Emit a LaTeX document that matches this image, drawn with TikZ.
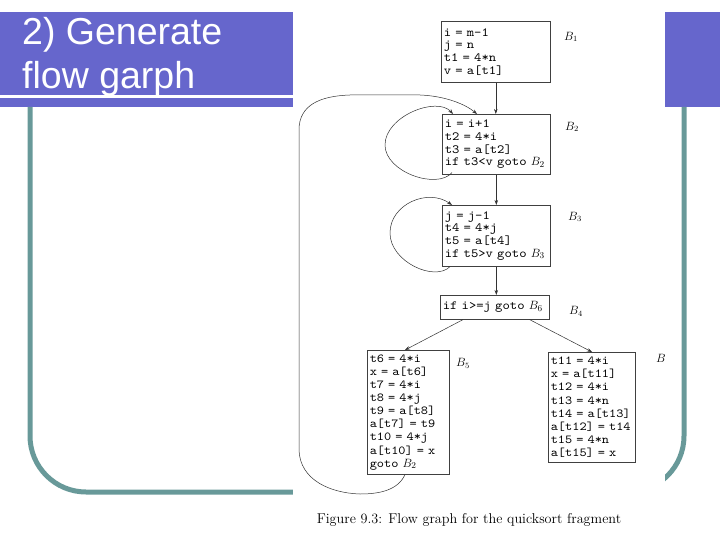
\documentclass[tikz,border=0pt]{standalone}
\usepackage{fontspec}
\newfontfamily\titlefont{Liberation Sans}
\newfontfamily\codefont{lmmono10-regular.otf}[FakeStretch=1.12]
\usetikzlibrary{arrows.meta}
\definecolor{slidepurple}{RGB}{102,102,204}
\definecolor{slideteal}{RGB}{104,153,153}
\tikzset{
  block/.style={draw=black!75, line width=0.6pt, anchor=north west, inner xsep=2.5pt, inner ysep=0pt, align=left,
    font=\fontsize{12.5}{12.6}\selectfont\codefont},
  bigblock/.style={block, font=\fontsize{12.2}{13.1}\selectfont\codefont},
  blabel/.style={anchor=west, inner sep=0pt, font=\fontsize{12}{14}\selectfont},
  flow/.style={draw=black!80, line width=0.5pt, -{Stealth[length=5pt,width=3.5pt]}},
}
\begin{document}
\begin{tikzpicture}[x=1pt,y=-1pt]
\useasboundingbox (0,0) rectangle (720,540);
% slide frame
\fill[slidepurple] (0,12) rectangle (720,107);
\draw[white, line width=2.5pt] (0,96.5) -- (293,96.5);
\draw[slideteal, line width=5pt, rounded corners=56pt] (30,107) -- (30,492) -- (684,492) -- (684,107);
\fill[white] (293,0) rectangle (665,540);
\node[anchor=base west, inner sep=0pt, text=white, font=\titlefont\fontsize{37.5}{44}\selectfont] (title1) at (22,45) {2) Generate};
\node[anchor=base west, inner sep=0pt, text=white, font=\titlefont\fontsize{37.5}{44}\selectfont] (title2) at (22,89) {flow garph};
% basic blocks
\node[block, text width=104pt, minimum height=61pt] (B1) at (441,21) {i = m-1\\j = n\\t1 = 4*n\\v = a[t1]};
\node[block, text width=103pt, minimum height=60pt] (B2) at (442,114) {i = i+1\\t2 = 4*i\\t3 = a[t2]\\if t3<v goto $B_2$};
\node[block, text width=103pt, minimum height=61pt] (B3) at (442,205) {j = j-1\\t4 = 4*j\\t5 = a[t4]\\if t5>v goto $B_3$};
\node[block, text width=104pt, minimum height=24pt] (B4) at (440,295) {if i>=j goto $B_6$};
\node[bigblock, text width=77pt, minimum height=124pt] (B5) at (367,350) {t6 = 4*i\\x = a[t6]\\t7 = 4*i\\t8 = 4*j\\t9 = a[t8]\\a[t7] = t9\\t10 = 4*j\\a[t10] = x\\goto $B_2$};
\node[bigblock, text width=82pt, minimum height=110pt] (B6) at (548,352) {t11 = 4*i\\x = a[t11]\\t12 = 4*i\\t13 = 4*n\\t14 = a[t13]\\a[t12] = t14\\t15 = 4*n\\a[t15] = x};
% block names
\node[blabel] (lB1) at (564,37) {$B_1$};
\node[blabel] (lB2) at (565,127) {$B_2$};
\node[blabel] (lB3) at (568,217) {$B_3$};
\node[blabel] (lB4) at (569,311) {$B_4$};
\node[blabel] (lB5) at (456,363) {$B_5$};
\node[blabel] (lB6) at (656,358) {$B$};
% edges
\draw[flow] (B1.south) -- (B1.south |- B2.north);
\draw[flow] (B2.south) -- (B2.south |- B3.north);
\draw[flow] (B3.south) -- (B3.south |- B4.north);
\draw[flow] ([xshift=23pt]B4.south west) -- ([xshift=38pt]B5.north west);
\draw[flow] ([xshift=-20pt]B4.south east) -- ([xshift=44pt]B6.north west);
\draw[flow] ([xshift=10pt,yshift=2pt]B2.south west) .. controls (437,190) and (385,172) .. (385,145)
  .. controls (385,116) and (437,96) .. ([xshift=11pt]B2.north west);
\draw[flow] ([xshift=8pt]B3.south west) .. controls (435,282) and (390,262) .. (390,233)
  .. controls (390,204) and (428,188) .. ([xshift=10pt]B3.north west);
\draw[flow] ([xshift=38pt]B5.south west) .. controls (398,490) and (380,494) .. (360,494)
  .. controls (330,493) and (300,480) .. (299,450) -- (299,130)
  .. controls (299,105) and (320,96) .. (350,95) -- (420,95)
  .. controls (445,96) and (465,104) .. ([xshift=35pt]B2.north west);
% caption
\node[font=\fontsize{14.2}{17}\selectfont] (caption) at (469,520) {Figure 9.3: Flow graph for the quicksort fragment};
\end{tikzpicture}
\end{document}
